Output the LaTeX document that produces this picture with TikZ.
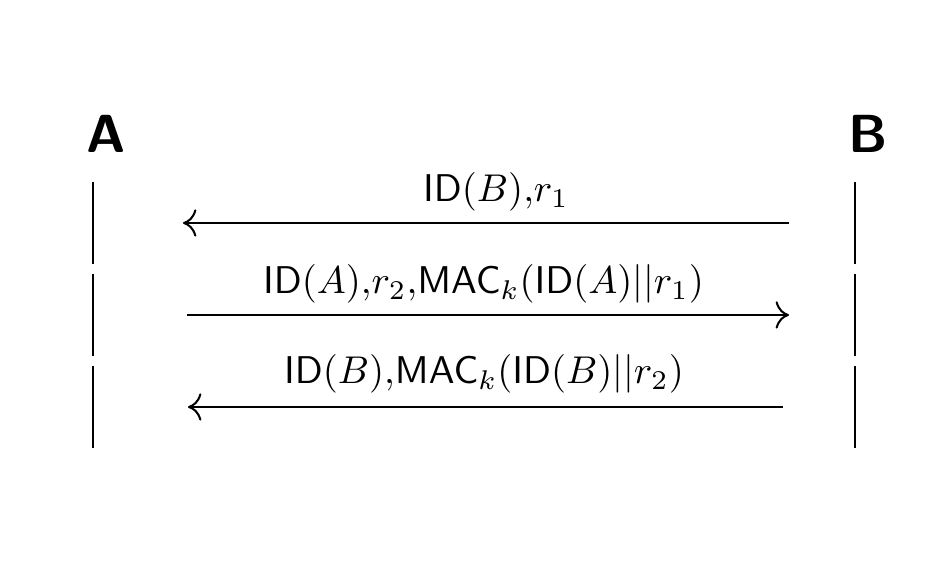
\documentclass[tikz,border=0pt]{standalone}
\usetikzlibrary{arrows.meta}
\begin{document}
\begin{tikzpicture}[x=0.345pt,y=-0.345pt,
  life/.style={line width=0.7pt},
  msg/.style={line width=0.7pt,-{Computer Modern Rightarrow[length=4.6pt,width=9.4pt]}},
  lbl/.style={anchor=base,inner sep=0pt,font=\sffamily,scale=1.335,transform shape},
  actor/.style={anchor=base,inner sep=0pt,font=\fontsize{18.5}{22}\selectfont\sffamily\bfseries}]
\useasboundingbox (0,0) rectangle (942,561);
% actors
\node[actor] (A) at (106,153) {A};
\node[actor] (B) at (868,153) {B};
% lifelines
\coordinate (a1t) at (93,182); \coordinate (a1b) at (93,264);
\coordinate (a2t) at (93,274); \coordinate (a2b) at (93,356);
\coordinate (a3t) at (93,366); \coordinate (a3b) at (93,448);
\coordinate (b1t) at (855,182); \coordinate (b1b) at (855,264);
\coordinate (b2t) at (855,274); \coordinate (b2b) at (855,356);
\coordinate (b3t) at (855,366); \coordinate (b3b) at (855,448);
\draw[life] (a1t) -- (a1b);
\draw[life] (a2t) -- (a2b);
\draw[life] (a3t) -- (a3b);
\draw[life] (b1t) -- (b1b);
\draw[life] (b2t) -- (b2b);
\draw[life] (b3t) -- (b3b);
% messages
\coordinate (m1s) at (789,223); \coordinate (m1e) at (183,223);
\coordinate (m2s) at (187,315); \coordinate (m2e) at (789,315);
\coordinate (m3s) at (783,407); \coordinate (m3e) at (188,407);
\draw[msg] (m1s) -- (m1e);
\draw[msg] (m2s) -- (m2e);
\draw[msg] (m3s) -- (m3e);
% labels
\node[lbl] (l1) at (496,202) {$\mathsf{ID}(B){,}r_1$};
\node[lbl] (l2) at (483.5,294) {$\mathsf{ID}(A){,}r_2{,}\mathsf{MAC}_k(\mathsf{ID}(A)||r_1)$};
\node[lbl] (l3) at (484,384) {$\mathsf{ID}(B){,}\mathsf{MAC}_k(\mathsf{ID}(B)||r_2)$};
\end{tikzpicture}
\end{document}
